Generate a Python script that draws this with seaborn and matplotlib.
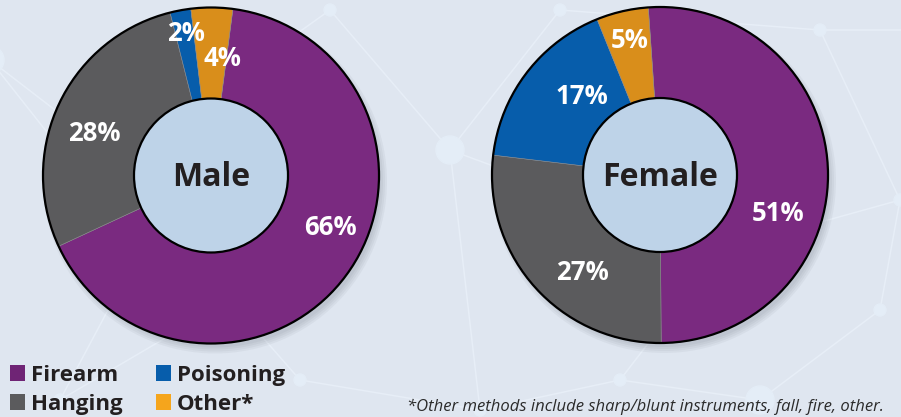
import matplotlib
matplotlib.use("Agg")
import matplotlib.pyplot as plt
from matplotlib.patches import Circle, Patch
import seaborn as sns

# data
methods = ["Firearm", "Hanging", "Poisoning", "Other*"]
male_pct = [66, 28, 2, 4]
female_pct = [51, 27, 17, 5]
wedge_colors = ["#7A2A80", "#5B5B5D", "#075DAB", "#D98E1B"]
legend_colors = ["#6F2475", "#5B5B5D", "#075DAB", "#F5A51C"]
footnote = "*Other methods include sharp/blunt instruments, fall, fire, other."

sns.set_theme(style="white")
plt.rcParams["font.family"] = ["Open Sans", "DejaVu Sans"]

W, H = 901, 417
fig = plt.figure(figsize=(W / 100, H / 100), dpi=100)
bg = "#DFE6F0"
fig.patch.set_facecolor(bg)
ax = fig.add_axes([0, 0, 1, 1])
ax.set_facecolor(bg)

# faint network pattern in the background
nodes = [(-10, 60), (120, 160), (330, 10), (450, 150), (560, 10), (820, 30),
         (960, 30), (900, 200), (880, 310), (760, 400), (620, 380), (480, 410),
         (230, 300), (60, 400), (140, 250), (720, 250), (300, 380), (970, 140)]
links = [(0, 1), (1, 2), (2, 3), (3, 4), (4, 5), (5, 6), (5, 7), (7, 8), (8, 9),
         (9, 10), (10, 11), (11, 3), (12, 1), (12, 13), (13, 14), (14, 1),
         (15, 7), (15, 10), (16, 12), (16, 11), (17, 7), (3, 15), (0, 14)]
for a, b in links:
    (x1, y1), (x2, y2) = nodes[a], nodes[b]
    ax.plot([x1, x2], [H - y1, H - y2], color="#E7EEF7", lw=1.1, zorder=0)
for i, (x, y) in enumerate(nodes):
    r = 6 if i % 3 else 14
    ax.add_patch(Circle((x, H - y), r, color="#E4EDF7", zorder=0))

outer_r, inner_r = 168, 77
charts = [
    (male_pct, (211, H - 175.5), 82.5, "Male",
     [(330, 227), (94, 133), (186, 33), (222, 58)]),
    (female_pct, (660, H - 175), 94, "Female",
     [(778, 213), (582, 273), (582, 96), (630, 40)]),
]

for vals, center, start, name, label_pos in charts:
    cx, cy = center
    # soft drop shadow
    for k in range(4):
        ax.add_patch(Circle((cx + 4, cy - 6), outer_r + 4 - k * 2,
                            color="#3A4250", alpha=0.05, lw=0, zorder=1))
    ax.pie(vals, colors=wedge_colors, startangle=start, counterclock=False,
           center=center, radius=outer_r, frame=True,
           wedgeprops=dict(linewidth=0.4, edgecolor="#8A8A8C"))
    for w in ax.patches[-len(vals):]:
        w.set_zorder(2)
    ax.add_patch(Circle(center, outer_r, fill=False, ec="black", lw=1.6, zorder=3))
    ax.add_patch(Circle(center, inner_r, fc="#BED3E8", ec="black", lw=1.6, zorder=3))
    ax.text(cx, cy - 2, name, ha="center", va="center", fontsize=23,
            fontweight="bold", color="#231F20", zorder=4)
    for v, (lx, ly) in zip(vals, label_pos):
        ax.text(lx, H - ly, f"{v}%", ha="center", va="center", fontsize=18.5,
                fontweight="bold", color="white", zorder=4)

ax.set_xlim(0, W)
ax.set_ylim(0, H)
ax.set_aspect("equal")
ax.axis("off")

handles = [Patch(facecolor=c, edgecolor="none") for c in legend_colors]
leg = ax.legend(handles, methods, ncol=2, loc="lower left",
                bbox_to_anchor=(-0.009, -0.037), frameon=False,
                prop=dict(size=16, weight="bold"), handlelength=0.7,
                handleheight=0.7, handletextpad=0.25, columnspacing=1.5,
                labelspacing=0.35, borderaxespad=0.4)
for t in leg.get_texts():
    t.set_color("#231F20")

ax.text(884, H - 407, footnote, ha="right", va="center", fontsize=12,
        style="italic", color="#2B2B2B")

fig.savefig("out.png", dpi=100, facecolor=bg)
